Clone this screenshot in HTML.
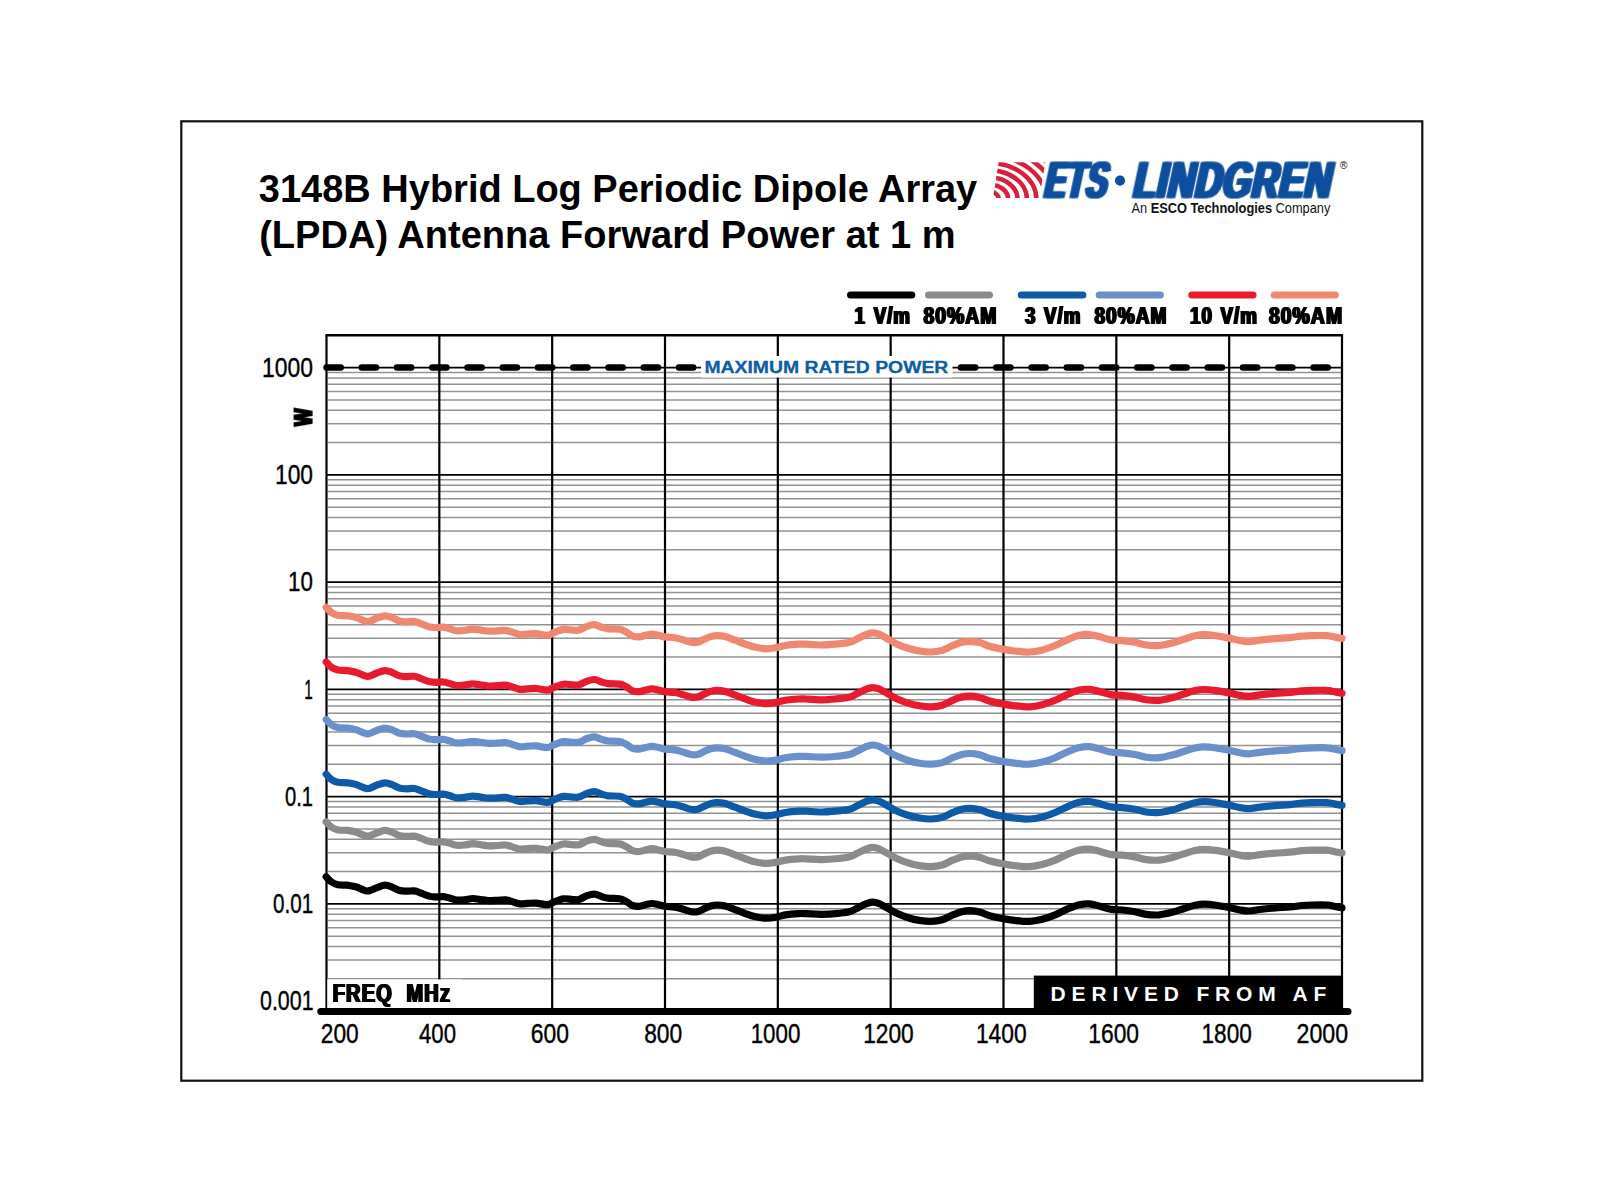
<!DOCTYPE html>
<html lang="en"><head><meta charset="utf-8"><title>3148B Hybrid Log Periodic Dipole Array (LPDA) Antenna Forward Power at 1 m</title>
<style>html,body{margin:0;padding:0;background:#fff;overflow:hidden}svg{display:block}</style></head>
<body>
<svg width="1600" height="1200" viewBox="0 0 1600 1200">
<rect width="1600" height="1200" fill="#fff"/>
<defs><filter id="hb1" x="-5%" y="-20%" width="110%" height="140%"><feOffset in="SourceGraphic" dx="-0.6" result="a"/><feOffset in="SourceGraphic" dx="0.6" result="b"/><feMerge><feMergeNode in="a"/><feMergeNode in="SourceGraphic"/><feMergeNode in="b"/></feMerge></filter><filter id="hb2" x="-5%" y="-20%" width="110%" height="140%"><feOffset in="SourceGraphic" dx="-1.7" result="a"/><feOffset in="SourceGraphic" dx="1.7" result="b"/><feMerge><feMergeNode in="a"/><feMergeNode in="SourceGraphic"/><feMergeNode in="b"/></feMerge></filter></defs>
<rect x="181.3" y="121.3" width="1241" height="959.4" fill="none" stroke="#111" stroke-width="2.2"/>
<g stroke="#929292" stroke-width="1.5">
<line x1="328.0" x2="1341.0" y1="442.56" y2="442.56"/>
<line x1="328.0" x2="1341.0" y1="423.68" y2="423.68"/>
<line x1="328.0" x2="1341.0" y1="410.28" y2="410.28"/>
<line x1="328.0" x2="1341.0" y1="399.89" y2="399.89"/>
<line x1="328.0" x2="1341.0" y1="391.39" y2="391.39"/>
<line x1="328.0" x2="1341.0" y1="384.21" y2="384.21"/>
<line x1="328.0" x2="1341.0" y1="377.99" y2="377.99"/>
<line x1="328.0" x2="1341.0" y1="372.51" y2="372.51"/>
<line x1="328.0" x2="1341.0" y1="549.81" y2="549.81"/>
<line x1="328.0" x2="1341.0" y1="530.93" y2="530.93"/>
<line x1="328.0" x2="1341.0" y1="517.53" y2="517.53"/>
<line x1="328.0" x2="1341.0" y1="507.14" y2="507.14"/>
<line x1="328.0" x2="1341.0" y1="498.64" y2="498.64"/>
<line x1="328.0" x2="1341.0" y1="491.46" y2="491.46"/>
<line x1="328.0" x2="1341.0" y1="485.24" y2="485.24"/>
<line x1="328.0" x2="1341.0" y1="479.76" y2="479.76"/>
<line x1="328.0" x2="1341.0" y1="657.06" y2="657.06"/>
<line x1="328.0" x2="1341.0" y1="638.18" y2="638.18"/>
<line x1="328.0" x2="1341.0" y1="624.78" y2="624.78"/>
<line x1="328.0" x2="1341.0" y1="614.39" y2="614.39"/>
<line x1="328.0" x2="1341.0" y1="605.89" y2="605.89"/>
<line x1="328.0" x2="1341.0" y1="598.71" y2="598.71"/>
<line x1="328.0" x2="1341.0" y1="592.49" y2="592.49"/>
<line x1="328.0" x2="1341.0" y1="587.01" y2="587.01"/>
<line x1="328.0" x2="1341.0" y1="764.31" y2="764.31"/>
<line x1="328.0" x2="1341.0" y1="745.43" y2="745.43"/>
<line x1="328.0" x2="1341.0" y1="732.03" y2="732.03"/>
<line x1="328.0" x2="1341.0" y1="721.64" y2="721.64"/>
<line x1="328.0" x2="1341.0" y1="713.14" y2="713.14"/>
<line x1="328.0" x2="1341.0" y1="705.96" y2="705.96"/>
<line x1="328.0" x2="1341.0" y1="699.74" y2="699.74"/>
<line x1="328.0" x2="1341.0" y1="694.26" y2="694.26"/>
<line x1="328.0" x2="1341.0" y1="871.56" y2="871.56"/>
<line x1="328.0" x2="1341.0" y1="852.68" y2="852.68"/>
<line x1="328.0" x2="1341.0" y1="839.28" y2="839.28"/>
<line x1="328.0" x2="1341.0" y1="828.89" y2="828.89"/>
<line x1="328.0" x2="1341.0" y1="820.39" y2="820.39"/>
<line x1="328.0" x2="1341.0" y1="813.21" y2="813.21"/>
<line x1="328.0" x2="1341.0" y1="806.99" y2="806.99"/>
<line x1="328.0" x2="1341.0" y1="801.51" y2="801.51"/>
<line x1="328.0" x2="1341.0" y1="978.81" y2="978.81"/>
<line x1="328.0" x2="1341.0" y1="959.93" y2="959.93"/>
<line x1="328.0" x2="1341.0" y1="946.53" y2="946.53"/>
<line x1="328.0" x2="1341.0" y1="936.14" y2="936.14"/>
<line x1="328.0" x2="1341.0" y1="927.64" y2="927.64"/>
<line x1="328.0" x2="1341.0" y1="920.46" y2="920.46"/>
<line x1="328.0" x2="1341.0" y1="914.24" y2="914.24"/>
<line x1="328.0" x2="1341.0" y1="908.76" y2="908.76"/>
</g>
<g stroke="#000" stroke-width="1.9">
<line x1="326.5" x2="1342.0" y1="367.60" y2="367.60"/>
<line x1="326.5" x2="1342.0" y1="474.85" y2="474.85"/>
<line x1="326.5" x2="1342.0" y1="582.10" y2="582.10"/>
<line x1="326.5" x2="1342.0" y1="689.35" y2="689.35"/>
<line x1="326.5" x2="1342.0" y1="796.60" y2="796.60"/>
<line x1="326.5" x2="1342.0" y1="903.85" y2="903.85"/>
<line x1="326.50" x2="326.50" y1="335.3" y2="1011.1" stroke-width="2.2"/>
<line x1="439.33" x2="439.33" y1="335.3" y2="1011.1" stroke-width="2.2"/>
<line x1="552.17" x2="552.17" y1="335.3" y2="1011.1" stroke-width="2.2"/>
<line x1="665.00" x2="665.00" y1="335.3" y2="1011.1" stroke-width="2.2"/>
<line x1="777.83" x2="777.83" y1="335.3" y2="1011.1" stroke-width="2.2"/>
<line x1="890.67" x2="890.67" y1="335.3" y2="1011.1" stroke-width="2.2"/>
<line x1="1003.50" x2="1003.50" y1="335.3" y2="1011.1" stroke-width="2.2"/>
<line x1="1116.33" x2="1116.33" y1="335.3" y2="1011.1" stroke-width="2.2"/>
<line x1="1229.17" x2="1229.17" y1="335.3" y2="1011.1" stroke-width="2.2"/>
<line x1="1342.00" x2="1342.00" y1="335.3" y2="1011.1" stroke-width="2.2"/>
</g>
<line x1="325.4" x2="1343.1" y1="335.3" y2="335.3" stroke="#000" stroke-width="2.4"/>
<rect x="327.3" y="979.4" width="134" height="30" fill="#fff"/>
<path d="M326.2 876.7C327.1 877.6 329.4 880.6 331.4 881.9C333.3 883.2 335.2 884.2 337.9 884.7C340.6 885.2 344.6 884.9 347.6 885.2C350.6 885.6 353.0 886.0 355.7 886.8C358.4 887.6 361.7 889.4 363.9 890.1C366.1 890.8 366.5 891.3 368.7 890.9C370.9 890.5 374.2 888.5 376.9 887.6C379.6 886.7 382.6 885.3 385.0 885.2C387.4 885.1 389.1 885.9 391.5 886.8C393.9 887.7 397.2 889.8 399.6 890.5C402.0 891.2 403.7 891.1 406.1 891.2C408.5 891.3 411.8 890.6 414.2 890.9C416.6 891.2 418.2 892.1 420.7 893.0C423.1 893.9 426.4 895.5 428.9 896.1C431.3 896.8 433.0 896.8 435.4 896.9C437.8 897.0 441.1 896.4 443.5 896.6C445.9 896.8 447.8 897.6 450.0 898.2C452.2 898.8 454.1 899.8 456.5 900.1C458.9 900.4 461.9 900.1 464.6 899.8C467.3 899.5 470.0 898.5 472.7 898.5C475.4 898.5 478.2 899.1 480.9 899.5C483.6 899.9 486.3 900.5 489.0 900.6C491.7 900.7 494.4 900.4 497.1 900.3C499.8 900.2 502.8 899.6 505.2 899.8C507.6 900.0 509.2 900.7 511.7 901.4C514.1 902.1 517.2 903.6 519.9 903.9C522.6 904.2 525.3 903.5 528.0 903.4C530.7 903.3 532.9 902.9 536.1 903.1C539.4 903.3 544.5 904.9 547.5 904.7C550.5 904.5 551.3 902.9 554.0 901.9C556.7 900.9 560.6 899.2 563.7 898.8C566.8 898.4 570.0 899.4 572.5 899.5C575.0 899.6 576.6 900.1 579.0 899.5C581.4 898.9 584.5 896.6 587.1 895.7C589.7 894.8 592.0 894.0 594.4 894.1C596.8 894.2 599.4 895.9 601.7 896.6C604.0 897.3 605.2 897.9 608.2 898.2C611.2 898.6 616.6 898.2 619.6 898.7C622.6 899.2 623.9 900.3 626.1 901.4C628.3 902.5 630.4 904.7 632.6 905.5C634.8 906.3 636.9 906.4 639.1 906.3C641.3 906.2 643.4 905.2 645.6 904.7C647.8 904.2 649.9 903.5 652.1 903.5C654.3 903.5 656.4 904.2 658.6 904.7C660.8 905.2 662.4 905.9 665.1 906.3C667.8 906.7 671.9 906.6 674.9 907.1C677.9 907.6 680.3 908.4 683.0 909.2C685.7 910.0 688.7 911.3 691.1 911.7C693.5 912.1 695.4 912.2 697.6 911.7C699.8 911.2 701.9 909.7 704.1 908.7C706.3 907.8 708.4 906.6 710.6 906.0C712.8 905.4 714.7 905.0 717.1 905.0C719.5 905.0 722.2 905.2 725.2 906.0C728.2 906.8 731.8 908.4 735.0 909.6C738.2 910.8 741.5 912.1 744.7 913.3C748.0 914.4 751.0 915.7 754.5 916.5C758.0 917.3 762.4 918.1 765.9 918.2C769.4 918.3 772.4 917.8 775.6 917.2C778.9 916.7 781.6 915.5 785.4 914.9C789.2 914.3 795.0 913.8 798.4 913.6C801.8 913.4 801.8 913.5 805.7 913.6C809.6 913.7 816.6 914.5 822.0 914.4C827.4 914.3 833.6 913.8 838.2 913.3C842.8 912.8 846.4 912.6 849.6 911.7C852.9 910.8 855.0 909.2 857.7 907.9C860.4 906.6 863.5 904.8 865.9 903.9C868.3 903.0 870.2 902.3 872.4 902.2C874.6 902.1 876.5 902.5 878.9 903.5C881.3 904.5 884.0 906.3 887.0 907.9C890.0 909.5 893.2 911.7 896.7 913.3C900.2 914.9 904.3 916.5 908.1 917.7C911.9 918.9 915.7 919.8 919.5 920.4C923.3 921.0 927.1 921.5 930.9 921.4C934.7 921.3 938.7 920.8 942.2 919.8C945.7 918.8 948.8 916.6 952.0 915.2C955.2 913.9 958.7 912.5 961.7 911.7C964.7 911.0 966.9 910.7 969.9 910.7C972.9 910.8 976.4 911.2 979.6 912.0C982.9 912.8 985.6 914.5 989.4 915.6C993.2 916.7 998.2 917.7 1002.4 918.5C1006.6 919.3 1010.1 919.9 1014.6 920.4C1019.1 920.9 1024.6 921.6 1029.2 921.4C1033.8 921.2 1037.9 920.4 1042.2 919.3C1046.5 918.2 1050.9 916.7 1055.2 914.9C1059.5 913.1 1064.1 910.4 1068.2 908.7C1072.3 907.0 1076.1 905.5 1079.6 904.7C1083.1 903.9 1086.2 903.7 1089.4 903.9C1092.7 904.1 1095.6 905.1 1099.1 906.0C1102.6 906.9 1106.7 908.5 1110.5 909.2C1114.3 909.9 1117.8 909.6 1121.9 910.0C1126.0 910.4 1130.9 911.0 1134.9 911.7C1139.0 912.4 1142.2 913.9 1146.2 914.4C1150.2 914.9 1154.9 915.2 1159.2 914.9C1163.5 914.5 1168.1 913.3 1172.2 912.3C1176.3 911.3 1179.8 909.9 1183.6 908.7C1187.4 907.5 1191.5 906.0 1195.0 905.2C1198.5 904.4 1201.2 904.1 1204.7 904.1C1208.2 904.1 1212.0 904.6 1216.1 905.2C1220.1 905.8 1225.0 906.7 1229.0 907.5C1233.0 908.3 1236.7 909.4 1240.0 910.0C1243.3 910.6 1245.7 911.1 1249.0 911.0C1252.3 910.9 1255.7 910.0 1260.0 909.5C1264.3 909.0 1270.0 908.4 1275.0 908.0C1280.0 907.6 1285.5 907.4 1290.0 907.0C1294.5 906.6 1298.3 905.8 1302.0 905.5C1305.7 905.2 1307.8 905.1 1312.0 905.0C1316.2 904.9 1323.2 904.8 1327.0 905.0C1330.8 905.2 1332.5 906.0 1335.0 906.5C1337.5 907.0 1340.8 907.6 1342.0 907.8" fill="none" stroke="#000" stroke-width="7.2" stroke-linecap="round" stroke-linejoin="round"/>
<path d="M326.2 821.9C327.1 822.8 329.4 825.8 331.4 827.1C333.3 828.4 335.2 829.4 337.9 829.9C340.6 830.5 344.6 830.1 347.6 830.4C350.6 830.8 353.0 831.2 355.7 832.0C358.4 832.8 361.7 834.6 363.9 835.3C366.1 836.0 366.5 836.5 368.7 836.1C370.9 835.7 374.2 833.8 376.9 832.8C379.6 831.9 382.6 830.5 385.0 830.4C387.4 830.3 389.1 831.1 391.5 832.0C393.9 832.9 397.2 835.0 399.6 835.7C402.0 836.4 403.7 836.3 406.1 836.4C408.5 836.5 411.8 835.8 414.2 836.1C416.6 836.4 418.2 837.3 420.7 838.2C423.1 839.1 426.4 840.7 428.9 841.3C431.3 842.0 433.0 842.0 435.4 842.1C437.8 842.2 441.1 841.6 443.5 841.8C445.9 842.0 447.8 842.8 450.0 843.4C452.2 844.0 454.1 845.0 456.5 845.3C458.9 845.6 461.9 845.3 464.6 845.0C467.3 844.7 470.0 843.8 472.7 843.7C475.4 843.7 478.2 844.4 480.9 844.7C483.6 845.1 486.3 845.7 489.0 845.8C491.7 845.9 494.4 845.6 497.1 845.5C499.8 845.4 502.8 844.8 505.2 845.0C507.6 845.2 509.2 845.9 511.7 846.6C514.1 847.3 517.2 848.8 519.9 849.1C522.6 849.4 525.3 848.7 528.0 848.6C530.7 848.5 532.9 848.1 536.1 848.3C539.4 848.5 544.5 850.1 547.5 849.9C550.5 849.7 551.3 848.1 554.0 847.1C556.7 846.1 560.6 844.4 563.7 844.0C566.8 843.6 570.0 844.6 572.5 844.7C575.0 844.8 576.6 845.3 579.0 844.7C581.4 844.1 584.5 841.8 587.1 840.9C589.7 840.0 592.0 839.2 594.4 839.3C596.8 839.5 599.4 841.1 601.7 841.8C604.0 842.5 605.2 843.1 608.2 843.4C611.2 843.8 616.6 843.4 619.6 843.9C622.6 844.4 623.9 845.5 626.1 846.6C628.3 847.7 630.4 849.9 632.6 850.7C634.8 851.5 636.9 851.6 639.1 851.5C641.3 851.4 643.4 850.4 645.6 849.9C647.8 849.4 649.9 848.7 652.1 848.7C654.3 848.7 656.4 849.4 658.6 849.9C660.8 850.4 662.4 851.1 665.1 851.5C667.8 851.9 671.9 851.8 674.9 852.3C677.9 852.8 680.3 853.6 683.0 854.4C685.7 855.2 688.7 856.5 691.1 856.9C693.5 857.3 695.4 857.4 697.6 856.9C699.8 856.4 701.9 854.9 704.1 853.9C706.3 853.0 708.4 851.8 710.6 851.2C712.8 850.6 714.7 850.2 717.1 850.2C719.5 850.2 722.2 850.4 725.2 851.2C728.2 852.0 731.8 853.6 735.0 854.8C738.2 856.0 741.5 857.4 744.7 858.5C748.0 859.6 751.0 860.9 754.5 861.7C758.0 862.5 762.4 863.3 765.9 863.4C769.4 863.5 772.4 863.0 775.6 862.4C778.9 861.9 781.6 860.7 785.4 860.1C789.2 859.5 795.0 859.0 798.4 858.8C801.8 858.6 801.8 858.7 805.7 858.8C809.6 858.9 816.6 859.7 822.0 859.6C827.4 859.5 833.6 859.0 838.2 858.5C842.8 858.0 846.4 857.8 849.6 856.9C852.9 856.0 855.0 854.4 857.7 853.1C860.4 851.8 863.5 850.0 865.9 849.1C868.3 848.2 870.2 847.5 872.4 847.4C874.6 847.3 876.5 847.8 878.9 848.7C881.3 849.7 884.0 851.5 887.0 853.1C890.0 854.7 893.2 856.9 896.7 858.5C900.2 860.1 904.3 861.7 908.1 862.9C911.9 864.1 915.7 865.0 919.5 865.6C923.3 866.2 927.1 866.7 930.9 866.6C934.7 866.5 938.7 866.0 942.2 865.0C945.7 864.0 948.8 861.8 952.0 860.4C955.2 859.1 958.7 857.7 961.7 856.9C964.7 856.2 966.9 855.9 969.9 855.9C972.9 856.0 976.4 856.4 979.6 857.2C982.9 858.0 985.6 859.7 989.4 860.8C993.2 861.9 998.2 862.9 1002.4 863.7C1006.6 864.5 1010.1 865.1 1014.6 865.6C1019.1 866.1 1024.6 866.8 1029.2 866.6C1033.8 866.4 1037.9 865.6 1042.2 864.5C1046.5 863.4 1050.9 861.9 1055.2 860.1C1059.5 858.3 1064.1 855.6 1068.2 853.9C1072.3 852.2 1076.1 850.7 1079.6 849.9C1083.1 849.1 1086.2 848.9 1089.4 849.1C1092.7 849.3 1095.6 850.3 1099.1 851.2C1102.6 852.1 1106.7 853.7 1110.5 854.4C1114.3 855.1 1117.8 854.8 1121.9 855.2C1126.0 855.6 1130.9 856.2 1134.9 856.9C1139.0 857.6 1142.2 859.1 1146.2 859.6C1150.2 860.1 1154.9 860.5 1159.2 860.1C1163.5 859.8 1168.1 858.5 1172.2 857.5C1176.3 856.5 1179.8 855.1 1183.6 853.9C1187.4 852.7 1191.5 851.2 1195.0 850.4C1198.5 849.6 1201.2 849.3 1204.7 849.3C1208.2 849.3 1212.0 849.8 1216.1 850.4C1220.1 851.0 1225.0 851.9 1229.0 852.7C1233.0 853.5 1236.7 854.6 1240.0 855.2C1243.3 855.8 1245.7 856.3 1249.0 856.2C1252.3 856.1 1255.7 855.2 1260.0 854.7C1264.3 854.2 1270.0 853.6 1275.0 853.2C1280.0 852.8 1285.5 852.6 1290.0 852.2C1294.5 851.8 1298.3 851.0 1302.0 850.7C1305.7 850.4 1307.8 850.3 1312.0 850.2C1316.2 850.1 1323.2 850.0 1327.0 850.2C1330.8 850.5 1332.5 851.2 1335.0 851.7C1337.5 852.2 1340.8 852.8 1342.0 853.0" fill="none" stroke="#8b8b8b" stroke-width="7.2" stroke-linecap="round" stroke-linejoin="round"/>
<path d="M326.2 774.3C327.1 775.2 329.4 778.2 331.4 779.5C333.3 780.8 335.2 781.8 337.9 782.3C340.6 782.9 344.6 782.5 347.6 782.8C350.6 783.2 353.0 783.6 355.7 784.4C358.4 785.2 361.7 787.0 363.9 787.7C366.1 788.4 366.5 788.9 368.7 788.5C370.9 788.1 374.2 786.2 376.9 785.2C379.6 784.2 382.6 782.9 385.0 782.8C387.4 782.7 389.1 783.5 391.5 784.4C393.9 785.3 397.2 787.4 399.6 788.1C402.0 788.8 403.7 788.7 406.1 788.8C408.5 788.9 411.8 788.2 414.2 788.5C416.6 788.8 418.2 789.7 420.7 790.6C423.1 791.5 426.4 793.1 428.9 793.7C431.3 794.4 433.0 794.4 435.4 794.5C437.8 794.6 441.1 794.0 443.5 794.2C445.9 794.4 447.8 795.2 450.0 795.8C452.2 796.4 454.1 797.4 456.5 797.7C458.9 798.0 461.9 797.7 464.6 797.4C467.3 797.1 470.0 796.1 472.7 796.1C475.4 796.1 478.2 796.8 480.9 797.1C483.6 797.5 486.3 798.1 489.0 798.2C491.7 798.3 494.4 798.0 497.1 797.9C499.8 797.8 502.8 797.2 505.2 797.4C507.6 797.6 509.2 798.3 511.7 799.0C514.1 799.7 517.2 801.2 519.9 801.5C522.6 801.8 525.3 801.1 528.0 801.0C530.7 800.9 532.9 800.5 536.1 800.7C539.4 800.9 544.5 802.5 547.5 802.3C550.5 802.1 551.3 800.5 554.0 799.5C556.7 798.5 560.6 796.8 563.7 796.4C566.8 796.0 570.0 797.0 572.5 797.1C575.0 797.2 576.6 797.7 579.0 797.1C581.4 796.5 584.5 794.2 587.1 793.3C589.7 792.4 592.0 791.6 594.4 791.7C596.8 791.9 599.4 793.5 601.7 794.2C604.0 794.9 605.2 795.5 608.2 795.8C611.2 796.2 616.6 795.8 619.6 796.3C622.6 796.8 623.9 797.9 626.1 799.0C628.3 800.1 630.4 802.3 632.6 803.1C634.8 803.9 636.9 804.0 639.1 803.9C641.3 803.8 643.4 802.8 645.6 802.3C647.8 801.8 649.9 801.1 652.1 801.1C654.3 801.1 656.4 801.8 658.6 802.3C660.8 802.8 662.4 803.5 665.1 803.9C667.8 804.3 671.9 804.2 674.9 804.7C677.9 805.2 680.3 806.0 683.0 806.8C685.7 807.6 688.7 808.9 691.1 809.3C693.5 809.7 695.4 809.8 697.6 809.3C699.8 808.8 701.9 807.3 704.1 806.3C706.3 805.4 708.4 804.2 710.6 803.6C712.8 803.0 714.7 802.6 717.1 802.6C719.5 802.6 722.2 802.8 725.2 803.6C728.2 804.4 731.8 806.0 735.0 807.2C738.2 808.4 741.5 809.8 744.7 810.9C748.0 812.0 751.0 813.3 754.5 814.1C758.0 814.9 762.4 815.7 765.9 815.8C769.4 815.9 772.4 815.4 775.6 814.8C778.9 814.2 781.6 813.1 785.4 812.5C789.2 811.9 795.0 811.4 798.4 811.2C801.8 811.0 801.8 811.1 805.7 811.2C809.6 811.3 816.6 812.0 822.0 812.0C827.4 812.0 833.6 811.3 838.2 810.9C842.8 810.5 846.4 810.2 849.6 809.3C852.9 808.4 855.0 806.8 857.7 805.5C860.4 804.2 863.5 802.5 865.9 801.5C868.3 800.5 870.2 799.9 872.4 799.8C874.6 799.7 876.5 800.2 878.9 801.1C881.3 802.0 884.0 803.9 887.0 805.5C890.0 807.1 893.2 809.3 896.7 810.9C900.2 812.5 904.3 814.1 908.1 815.3C911.9 816.5 915.7 817.4 919.5 818.0C923.3 818.6 927.1 819.1 930.9 819.0C934.7 818.9 938.7 818.4 942.2 817.4C945.7 816.4 948.8 814.2 952.0 812.8C955.2 811.5 958.7 810.1 961.7 809.3C964.7 808.6 966.9 808.3 969.9 808.3C972.9 808.4 976.4 808.8 979.6 809.6C982.9 810.4 985.6 812.1 989.4 813.2C993.2 814.3 998.2 815.3 1002.4 816.1C1006.6 816.9 1010.1 817.5 1014.6 818.0C1019.1 818.5 1024.6 819.2 1029.2 819.0C1033.8 818.8 1037.9 818.0 1042.2 816.9C1046.5 815.8 1050.9 814.3 1055.2 812.5C1059.5 810.7 1064.1 808.0 1068.2 806.3C1072.3 804.6 1076.1 803.1 1079.6 802.3C1083.1 801.5 1086.2 801.3 1089.4 801.5C1092.7 801.7 1095.6 802.7 1099.1 803.6C1102.6 804.5 1106.7 806.1 1110.5 806.8C1114.3 807.5 1117.8 807.2 1121.9 807.6C1126.0 808.0 1130.9 808.6 1134.9 809.3C1139.0 810.0 1142.2 811.5 1146.2 812.0C1150.2 812.5 1154.9 812.9 1159.2 812.5C1163.5 812.1 1168.1 810.9 1172.2 809.9C1176.3 808.9 1179.8 807.5 1183.6 806.3C1187.4 805.1 1191.5 803.6 1195.0 802.8C1198.5 802.0 1201.2 801.7 1204.7 801.7C1208.2 801.7 1212.0 802.2 1216.1 802.8C1220.1 803.4 1225.0 804.3 1229.0 805.1C1233.0 805.9 1236.7 807.0 1240.0 807.6C1243.3 808.2 1245.7 808.7 1249.0 808.6C1252.3 808.5 1255.7 807.6 1260.0 807.1C1264.3 806.6 1270.0 806.0 1275.0 805.6C1280.0 805.2 1285.5 805.0 1290.0 804.6C1294.5 804.2 1298.3 803.4 1302.0 803.1C1305.7 802.8 1307.8 802.7 1312.0 802.6C1316.2 802.5 1323.2 802.4 1327.0 802.6C1330.8 802.9 1332.5 803.6 1335.0 804.1C1337.5 804.6 1340.8 805.2 1342.0 805.4" fill="none" stroke="#0d5aa9" stroke-width="7.2" stroke-linecap="round" stroke-linejoin="round"/>
<path d="M326.2 719.5C327.1 720.4 329.4 723.4 331.4 724.7C333.3 726.0 335.2 727.0 337.9 727.5C340.6 728.0 344.6 727.6 347.6 728.0C350.6 728.4 353.0 728.8 355.7 729.6C358.4 730.4 361.7 732.2 363.9 732.9C366.1 733.6 366.5 734.1 368.7 733.7C370.9 733.3 374.2 731.4 376.9 730.4C379.6 729.5 382.6 728.1 385.0 728.0C387.4 727.9 389.1 728.7 391.5 729.6C393.9 730.5 397.2 732.6 399.6 733.3C402.0 734.0 403.7 733.9 406.1 734.0C408.5 734.1 411.8 733.4 414.2 733.7C416.6 734.0 418.2 734.9 420.7 735.8C423.1 736.7 426.4 738.3 428.9 738.9C431.3 739.6 433.0 739.6 435.4 739.7C437.8 739.8 441.1 739.2 443.5 739.4C445.9 739.6 447.8 740.4 450.0 741.0C452.2 741.6 454.1 742.6 456.5 742.9C458.9 743.2 461.9 742.9 464.6 742.6C467.3 742.3 470.0 741.3 472.7 741.3C475.4 741.2 478.2 741.9 480.9 742.3C483.6 742.6 486.3 743.3 489.0 743.4C491.7 743.5 494.4 743.2 497.1 743.1C499.8 743.0 502.8 742.4 505.2 742.6C507.6 742.8 509.2 743.5 511.7 744.2C514.1 744.9 517.2 746.4 519.9 746.7C522.6 747.0 525.3 746.3 528.0 746.2C530.7 746.1 532.9 745.7 536.1 745.9C539.4 746.1 544.5 747.7 547.5 747.5C550.5 747.3 551.3 745.7 554.0 744.7C556.7 743.7 560.6 742.0 563.7 741.6C566.8 741.2 570.0 742.2 572.5 742.3C575.0 742.4 576.6 742.9 579.0 742.3C581.4 741.7 584.5 739.4 587.1 738.5C589.7 737.6 592.0 736.8 594.4 736.9C596.8 737.1 599.4 738.7 601.7 739.4C604.0 740.1 605.2 740.6 608.2 741.0C611.2 741.4 616.6 741.0 619.6 741.5C622.6 742.0 623.9 743.1 626.1 744.2C628.3 745.3 630.4 747.5 632.6 748.3C634.8 749.1 636.9 749.2 639.1 749.1C641.3 749.0 643.4 748.0 645.6 747.5C647.8 747.0 649.9 746.3 652.1 746.3C654.3 746.3 656.4 747.0 658.6 747.5C660.8 748.0 662.4 748.7 665.1 749.1C667.8 749.5 671.9 749.4 674.9 749.9C677.9 750.4 680.3 751.2 683.0 752.0C685.7 752.8 688.7 754.1 691.1 754.5C693.5 754.9 695.4 755.0 697.6 754.5C699.8 754.0 701.9 752.5 704.1 751.5C706.3 750.5 708.4 749.4 710.6 748.8C712.8 748.2 714.7 747.8 717.1 747.8C719.5 747.8 722.2 748.0 725.2 748.8C728.2 749.6 731.8 751.2 735.0 752.4C738.2 753.6 741.5 754.9 744.7 756.1C748.0 757.2 751.0 758.5 754.5 759.3C758.0 760.1 762.4 760.9 765.9 761.0C769.4 761.1 772.4 760.5 775.6 760.0C778.9 759.5 781.6 758.3 785.4 757.7C789.2 757.1 795.0 756.6 798.4 756.4C801.8 756.2 801.8 756.3 805.7 756.4C809.6 756.5 816.6 757.3 822.0 757.2C827.4 757.1 833.6 756.5 838.2 756.1C842.8 755.6 846.4 755.4 849.6 754.5C852.9 753.6 855.0 752.0 857.7 750.7C860.4 749.4 863.5 747.7 865.9 746.7C868.3 745.8 870.2 745.1 872.4 745.0C874.6 744.9 876.5 745.3 878.9 746.3C881.3 747.2 884.0 749.1 887.0 750.7C890.0 752.3 893.2 754.5 896.7 756.1C900.2 757.7 904.3 759.3 908.1 760.5C911.9 761.7 915.7 762.6 919.5 763.2C923.3 763.8 927.1 764.3 930.9 764.2C934.7 764.1 938.7 763.6 942.2 762.6C945.7 761.6 948.8 759.4 952.0 758.0C955.2 756.6 958.7 755.2 961.7 754.5C964.7 753.8 966.9 753.5 969.9 753.5C972.9 753.5 976.4 754.0 979.6 754.8C982.9 755.6 985.6 757.3 989.4 758.4C993.2 759.5 998.2 760.5 1002.4 761.3C1006.6 762.1 1010.1 762.7 1014.6 763.2C1019.1 763.7 1024.6 764.4 1029.2 764.2C1033.8 764.0 1037.9 763.2 1042.2 762.1C1046.5 761.0 1050.9 759.5 1055.2 757.7C1059.5 755.9 1064.1 753.2 1068.2 751.5C1072.3 749.8 1076.1 748.3 1079.6 747.5C1083.1 746.7 1086.2 746.5 1089.4 746.7C1092.7 746.9 1095.6 747.9 1099.1 748.8C1102.6 749.7 1106.7 751.3 1110.5 752.0C1114.3 752.7 1117.8 752.4 1121.9 752.8C1126.0 753.2 1130.9 753.8 1134.9 754.5C1139.0 755.2 1142.2 756.7 1146.2 757.2C1150.2 757.7 1154.9 758.1 1159.2 757.7C1163.5 757.4 1168.1 756.1 1172.2 755.1C1176.3 754.1 1179.8 752.7 1183.6 751.5C1187.4 750.3 1191.5 748.8 1195.0 748.0C1198.5 747.2 1201.2 746.9 1204.7 746.9C1208.2 746.9 1212.0 747.4 1216.1 748.0C1220.1 748.6 1225.0 749.5 1229.0 750.3C1233.0 751.1 1236.7 752.2 1240.0 752.8C1243.3 753.4 1245.7 753.9 1249.0 753.8C1252.3 753.7 1255.7 752.8 1260.0 752.3C1264.3 751.8 1270.0 751.2 1275.0 750.8C1280.0 750.4 1285.5 750.2 1290.0 749.8C1294.5 749.4 1298.3 748.6 1302.0 748.3C1305.7 748.0 1307.8 747.9 1312.0 747.8C1316.2 747.7 1323.2 747.5 1327.0 747.8C1330.8 748.0 1332.5 748.8 1335.0 749.3C1337.5 749.8 1340.8 750.4 1342.0 750.6" fill="none" stroke="#6a8fcb" stroke-width="7.2" stroke-linecap="round" stroke-linejoin="round"/>
<path d="M326.2 662.1C327.1 663.0 329.4 666.0 331.4 667.3C333.3 668.6 335.2 669.5 337.9 670.1C340.6 670.7 344.6 670.2 347.6 670.6C350.6 671.0 353.0 671.4 355.7 672.2C358.4 673.0 361.7 674.8 363.9 675.5C366.1 676.2 366.5 676.7 368.7 676.3C370.9 675.9 374.2 674.0 376.9 673.0C379.6 672.0 382.6 670.7 385.0 670.6C387.4 670.5 389.1 671.3 391.5 672.2C393.9 673.1 397.2 675.2 399.6 675.9C402.0 676.6 403.7 676.5 406.1 676.6C408.5 676.7 411.8 676.0 414.2 676.3C416.6 676.6 418.2 677.5 420.7 678.4C423.1 679.3 426.4 680.9 428.9 681.5C431.3 682.1 433.0 682.2 435.4 682.3C437.8 682.4 441.1 681.8 443.5 682.0C445.9 682.2 447.8 683.0 450.0 683.6C452.2 684.2 454.1 685.2 456.5 685.5C458.9 685.8 461.9 685.5 464.6 685.2C467.3 684.9 470.0 683.9 472.7 683.9C475.4 683.9 478.2 684.5 480.9 684.9C483.6 685.2 486.3 685.9 489.0 686.0C491.7 686.1 494.4 685.8 497.1 685.7C499.8 685.6 502.8 685.0 505.2 685.2C507.6 685.4 509.2 686.1 511.7 686.8C514.1 687.5 517.2 689.0 519.9 689.3C522.6 689.6 525.3 688.9 528.0 688.8C530.7 688.7 532.9 688.3 536.1 688.5C539.4 688.7 544.5 690.3 547.5 690.1C550.5 689.9 551.3 688.3 554.0 687.3C556.7 686.3 560.6 684.6 563.7 684.2C566.8 683.8 570.0 684.8 572.5 684.9C575.0 685.0 576.6 685.5 579.0 684.9C581.4 684.3 584.5 682.0 587.1 681.1C589.7 680.2 592.0 679.4 594.4 679.5C596.8 679.6 599.4 681.3 601.7 682.0C604.0 682.7 605.2 683.2 608.2 683.6C611.2 684.0 616.6 683.6 619.6 684.1C622.6 684.6 623.9 685.7 626.1 686.8C628.3 687.9 630.4 690.1 632.6 690.9C634.8 691.7 636.9 691.8 639.1 691.7C641.3 691.6 643.4 690.6 645.6 690.1C647.8 689.6 649.9 688.9 652.1 688.9C654.3 688.9 656.4 689.6 658.6 690.1C660.8 690.6 662.4 691.3 665.1 691.7C667.8 692.1 671.9 692.0 674.9 692.5C677.9 693.0 680.3 693.8 683.0 694.6C685.7 695.4 688.7 696.7 691.1 697.1C693.5 697.5 695.4 697.6 697.6 697.1C699.8 696.6 701.9 695.1 704.1 694.1C706.3 693.1 708.4 692.0 710.6 691.4C712.8 690.8 714.7 690.4 717.1 690.4C719.5 690.4 722.2 690.6 725.2 691.4C728.2 692.2 731.8 693.8 735.0 695.0C738.2 696.2 741.5 697.5 744.7 698.7C748.0 699.8 751.0 701.1 754.5 701.9C758.0 702.7 762.4 703.5 765.9 703.6C769.4 703.7 772.4 703.2 775.6 702.6C778.9 702.0 781.6 700.9 785.4 700.3C789.2 699.7 795.0 699.2 798.4 699.0C801.8 698.8 801.8 698.9 805.7 699.0C809.6 699.1 816.6 699.8 822.0 699.8C827.4 699.8 833.6 699.1 838.2 698.7C842.8 698.2 846.4 698.0 849.6 697.1C852.9 696.2 855.0 694.6 857.7 693.3C860.4 692.0 863.5 690.2 865.9 689.3C868.3 688.3 870.2 687.7 872.4 687.6C874.6 687.5 876.5 688.0 878.9 688.9C881.3 689.8 884.0 691.7 887.0 693.3C890.0 694.9 893.2 697.1 896.7 698.7C900.2 700.3 904.3 701.9 908.1 703.1C911.9 704.3 915.7 705.2 919.5 705.8C923.3 706.4 927.1 706.9 930.9 706.8C934.7 706.7 938.7 706.2 942.2 705.2C945.7 704.2 948.8 702.0 952.0 700.6C955.2 699.2 958.7 697.9 961.7 697.1C964.7 696.4 966.9 696.1 969.9 696.1C972.9 696.1 976.4 696.6 979.6 697.4C982.9 698.2 985.6 699.9 989.4 701.0C993.2 702.1 998.2 703.1 1002.4 703.9C1006.6 704.7 1010.1 705.3 1014.6 705.8C1019.1 706.3 1024.6 707.0 1029.2 706.8C1033.8 706.6 1037.9 705.8 1042.2 704.7C1046.5 703.6 1050.9 702.1 1055.2 700.3C1059.5 698.5 1064.1 695.8 1068.2 694.1C1072.3 692.4 1076.1 690.9 1079.6 690.1C1083.1 689.3 1086.2 689.1 1089.4 689.3C1092.7 689.5 1095.6 690.5 1099.1 691.4C1102.6 692.3 1106.7 693.9 1110.5 694.6C1114.3 695.3 1117.8 695.0 1121.9 695.4C1126.0 695.8 1130.9 696.4 1134.9 697.1C1139.0 697.8 1142.2 699.3 1146.2 699.8C1150.2 700.3 1154.9 700.6 1159.2 700.3C1163.5 699.9 1168.1 698.7 1172.2 697.7C1176.3 696.7 1179.8 695.3 1183.6 694.1C1187.4 692.9 1191.5 691.4 1195.0 690.6C1198.5 689.8 1201.2 689.5 1204.7 689.5C1208.2 689.5 1212.0 690.0 1216.1 690.6C1220.1 691.2 1225.0 692.1 1229.0 692.9C1233.0 693.7 1236.7 694.8 1240.0 695.4C1243.3 696.0 1245.7 696.5 1249.0 696.4C1252.3 696.3 1255.7 695.4 1260.0 694.9C1264.3 694.4 1270.0 693.8 1275.0 693.4C1280.0 693.0 1285.5 692.8 1290.0 692.4C1294.5 692.0 1298.3 691.2 1302.0 690.9C1305.7 690.6 1307.8 690.5 1312.0 690.4C1316.2 690.3 1323.2 690.1 1327.0 690.4C1330.8 690.6 1332.5 691.4 1335.0 691.9C1337.5 692.4 1340.8 693.0 1342.0 693.2" fill="none" stroke="#e81a2e" stroke-width="7.2" stroke-linecap="round" stroke-linejoin="round"/>
<path d="M326.2 607.3C327.1 608.2 329.4 611.2 331.4 612.5C333.3 613.8 335.2 614.8 337.9 615.3C340.6 615.9 344.6 615.5 347.6 615.8C350.6 616.2 353.0 616.6 355.7 617.4C358.4 618.2 361.7 620.0 363.9 620.7C366.1 621.4 366.5 621.9 368.7 621.5C370.9 621.1 374.2 619.2 376.9 618.2C379.6 617.2 382.6 615.9 385.0 615.8C387.4 615.7 389.1 616.5 391.5 617.4C393.9 618.3 397.2 620.4 399.6 621.1C402.0 621.8 403.7 621.7 406.1 621.8C408.5 621.9 411.8 621.2 414.2 621.5C416.6 621.8 418.2 622.7 420.7 623.6C423.1 624.5 426.4 626.1 428.9 626.7C431.3 627.4 433.0 627.4 435.4 627.5C437.8 627.6 441.1 627.0 443.5 627.2C445.9 627.4 447.8 628.2 450.0 628.8C452.2 629.4 454.1 630.4 456.5 630.7C458.9 631.0 461.9 630.7 464.6 630.4C467.3 630.1 470.0 629.1 472.7 629.1C475.4 629.1 478.2 629.8 480.9 630.1C483.6 630.5 486.3 631.1 489.0 631.2C491.7 631.3 494.4 631.0 497.1 630.9C499.8 630.8 502.8 630.2 505.2 630.4C507.6 630.6 509.2 631.3 511.7 632.0C514.1 632.7 517.2 634.2 519.9 634.5C522.6 634.8 525.3 634.1 528.0 634.0C530.7 633.9 532.9 633.5 536.1 633.7C539.4 633.9 544.5 635.5 547.5 635.3C550.5 635.1 551.3 633.5 554.0 632.5C556.7 631.5 560.6 629.8 563.7 629.4C566.8 629.0 570.0 630.0 572.5 630.1C575.0 630.2 576.6 630.7 579.0 630.1C581.4 629.5 584.5 627.2 587.1 626.3C589.7 625.4 592.0 624.6 594.4 624.7C596.8 624.9 599.4 626.5 601.7 627.2C604.0 627.9 605.2 628.5 608.2 628.8C611.2 629.2 616.6 628.8 619.6 629.3C622.6 629.8 623.9 630.9 626.1 632.0C628.3 633.1 630.4 635.3 632.6 636.1C634.8 636.9 636.9 637.0 639.1 636.9C641.3 636.8 643.4 635.8 645.6 635.3C647.8 634.8 649.9 634.1 652.1 634.1C654.3 634.1 656.4 634.8 658.6 635.3C660.8 635.8 662.4 636.5 665.1 636.9C667.8 637.3 671.9 637.2 674.9 637.7C677.9 638.2 680.3 639.0 683.0 639.8C685.7 640.6 688.7 641.9 691.1 642.3C693.5 642.7 695.4 642.8 697.6 642.3C699.8 641.8 701.9 640.3 704.1 639.3C706.3 638.4 708.4 637.2 710.6 636.6C712.8 636.0 714.7 635.6 717.1 635.6C719.5 635.6 722.2 635.8 725.2 636.6C728.2 637.4 731.8 639.0 735.0 640.2C738.2 641.4 741.5 642.8 744.7 643.9C748.0 645.0 751.0 646.3 754.5 647.1C758.0 647.9 762.4 648.7 765.9 648.8C769.4 648.9 772.4 648.4 775.6 647.8C778.9 647.2 781.6 646.1 785.4 645.5C789.2 644.9 795.0 644.4 798.4 644.2C801.8 644.0 801.8 644.1 805.7 644.2C809.6 644.3 816.6 645.0 822.0 645.0C827.4 645.0 833.6 644.3 838.2 643.9C842.8 643.5 846.4 643.2 849.6 642.3C852.9 641.4 855.0 639.8 857.7 638.5C860.4 637.2 863.5 635.5 865.9 634.5C868.3 633.5 870.2 632.9 872.4 632.8C874.6 632.7 876.5 633.2 878.9 634.1C881.3 635.0 884.0 636.9 887.0 638.5C890.0 640.1 893.2 642.3 896.7 643.9C900.2 645.5 904.3 647.1 908.1 648.3C911.9 649.5 915.7 650.4 919.5 651.0C923.3 651.6 927.1 652.1 930.9 652.0C934.7 651.9 938.7 651.4 942.2 650.4C945.7 649.4 948.8 647.2 952.0 645.8C955.2 644.5 958.7 643.1 961.7 642.3C964.7 641.6 966.9 641.3 969.9 641.3C972.9 641.4 976.4 641.8 979.6 642.6C982.9 643.4 985.6 645.1 989.4 646.2C993.2 647.3 998.2 648.3 1002.4 649.1C1006.6 649.9 1010.1 650.5 1014.6 651.0C1019.1 651.5 1024.6 652.2 1029.2 652.0C1033.8 651.8 1037.9 651.0 1042.2 649.9C1046.5 648.8 1050.9 647.3 1055.2 645.5C1059.5 643.7 1064.1 641.0 1068.2 639.3C1072.3 637.6 1076.1 636.1 1079.6 635.3C1083.1 634.5 1086.2 634.3 1089.4 634.5C1092.7 634.7 1095.6 635.7 1099.1 636.6C1102.6 637.5 1106.7 639.1 1110.5 639.8C1114.3 640.5 1117.8 640.2 1121.9 640.6C1126.0 641.0 1130.9 641.6 1134.9 642.3C1139.0 643.0 1142.2 644.5 1146.2 645.0C1150.2 645.5 1154.9 645.9 1159.2 645.5C1163.5 645.1 1168.1 643.9 1172.2 642.9C1176.3 641.9 1179.8 640.5 1183.6 639.3C1187.4 638.1 1191.5 636.6 1195.0 635.8C1198.5 635.0 1201.2 634.7 1204.7 634.7C1208.2 634.7 1212.0 635.2 1216.1 635.8C1220.1 636.4 1225.0 637.3 1229.0 638.1C1233.0 638.9 1236.7 640.0 1240.0 640.6C1243.3 641.2 1245.7 641.7 1249.0 641.6C1252.3 641.5 1255.7 640.6 1260.0 640.1C1264.3 639.6 1270.0 639.0 1275.0 638.6C1280.0 638.2 1285.5 638.0 1290.0 637.6C1294.5 637.2 1298.3 636.4 1302.0 636.1C1305.7 635.8 1307.8 635.7 1312.0 635.6C1316.2 635.5 1323.2 635.4 1327.0 635.6C1330.8 635.9 1332.5 636.6 1335.0 637.1C1337.5 637.6 1340.8 638.2 1342.0 638.4" fill="none" stroke="#f08770" stroke-width="7.2" stroke-linecap="round" stroke-linejoin="round"/>
<line x1="326.5" x2="1331" y1="367.6" y2="367.6" stroke="#000" stroke-width="6.5" stroke-linecap="round" stroke-dasharray="14.2 21.05"/>
<rect x="701" y="356" width="251.5" height="21.5" fill="#fff"/>
<line x1="320.8" x2="1348" y1="1011.6" y2="1011.6" stroke="#000" stroke-width="7" stroke-linecap="round"/>
<rect x="1033.8" y="975.6" width="309.2" height="36" fill="#000"/>
<text x="258.86" y="202.0" font-family="Liberation Sans, sans-serif" font-weight="bold" font-size="39" textLength="718.39" lengthAdjust="spacingAndGlyphs">3148B Hybrid Log Periodic Dipole Array</text>
<text x="259.18" y="248.2" font-family="Liberation Sans, sans-serif" font-weight="bold" font-size="39" textLength="696.47" lengthAdjust="spacingAndGlyphs">(LPDA) Antenna Forward Power at 1 m</text>
<text x="262.00" y="376.9" font-family="Liberation Sans, sans-serif" font-size="28" stroke="#000" stroke-width="0.4" textLength="50.91" lengthAdjust="spacingAndGlyphs">1000</text>
<text x="275.00" y="484.2" font-family="Liberation Sans, sans-serif" font-size="28" stroke="#000" stroke-width="0.4" textLength="37.97" lengthAdjust="spacingAndGlyphs">100</text>
<text x="288.00" y="591.4" font-family="Liberation Sans, sans-serif" font-size="28" stroke="#000" stroke-width="0.4" textLength="24.86" lengthAdjust="spacingAndGlyphs">10</text>
<text x="304.35" y="698.6" font-family="Liberation Sans, sans-serif" font-size="28" stroke="#000" stroke-width="0.4" textLength="8.55" lengthAdjust="spacingAndGlyphs">1</text>
<text x="285.00" y="805.9" font-family="Liberation Sans, sans-serif" font-size="28" stroke="#000" stroke-width="0.4" textLength="28.07" lengthAdjust="spacingAndGlyphs">0.1</text>
<text x="273.00" y="913.1" font-family="Liberation Sans, sans-serif" font-size="28" stroke="#000" stroke-width="0.4" textLength="40.12" lengthAdjust="spacingAndGlyphs">0.01</text>
<text x="260.00" y="1010.4" font-family="Liberation Sans, sans-serif" font-size="28" stroke="#000" stroke-width="0.4" textLength="53.60" lengthAdjust="spacingAndGlyphs">0.001</text>
<text x="320.77" y="1043.4" font-family="Liberation Sans, sans-serif" font-size="28" stroke="#000" stroke-width="0.4" textLength="37.93" lengthAdjust="spacingAndGlyphs">200</text>
<text x="419.00" y="1043.4" font-family="Liberation Sans, sans-serif" font-size="28" stroke="#000" stroke-width="0.4" textLength="37.00" lengthAdjust="spacingAndGlyphs">400</text>
<text x="530.77" y="1043.4" font-family="Liberation Sans, sans-serif" font-size="28" stroke="#000" stroke-width="0.4" textLength="38.20" lengthAdjust="spacingAndGlyphs">600</text>
<text x="644.14" y="1043.4" font-family="Liberation Sans, sans-serif" font-size="28" stroke="#000" stroke-width="0.4" textLength="38.03" lengthAdjust="spacingAndGlyphs">800</text>
<text x="750.64" y="1043.4" font-family="Liberation Sans, sans-serif" font-size="28" stroke="#000" stroke-width="0.4" textLength="49.69" lengthAdjust="spacingAndGlyphs">1000</text>
<text x="863.23" y="1043.4" font-family="Liberation Sans, sans-serif" font-size="28" stroke="#000" stroke-width="0.4" textLength="50.47" lengthAdjust="spacingAndGlyphs">1200</text>
<text x="975.90" y="1043.4" font-family="Liberation Sans, sans-serif" font-size="28" stroke="#000" stroke-width="0.4" textLength="50.70" lengthAdjust="spacingAndGlyphs">1400</text>
<text x="1088.30" y="1043.4" font-family="Liberation Sans, sans-serif" font-size="28" stroke="#000" stroke-width="0.4" textLength="50.75" lengthAdjust="spacingAndGlyphs">1600</text>
<text x="1201.56" y="1043.4" font-family="Liberation Sans, sans-serif" font-size="28" stroke="#000" stroke-width="0.4" textLength="50.21" lengthAdjust="spacingAndGlyphs">1800</text>
<text x="1296.50" y="1043.4" font-family="Liberation Sans, sans-serif" font-size="28" stroke="#000" stroke-width="0.4" textLength="51.55" lengthAdjust="spacingAndGlyphs">2000</text>
<text x="332.64" y="1001.9" font-family="Liberation Sans, sans-serif" font-weight="bold" font-size="26.2" xml:space="preserve" letter-spacing="1.6" filter="url(#hb1)" textLength="118.60" lengthAdjust="spacingAndGlyphs">FREQ  MHz</text>
<text x="854.52" y="324.4" font-family="Liberation Sans, sans-serif" font-weight="bold" font-size="24.5" letter-spacing="1.3" word-spacing="2" filter="url(#hb1)" textLength="56.48" lengthAdjust="spacingAndGlyphs">1 V/m</text>
<text x="923.42" y="324.4" font-family="Liberation Sans, sans-serif" font-weight="bold" font-size="24.5" letter-spacing="1.3" word-spacing="2" filter="url(#hb1)" textLength="74.04" lengthAdjust="spacingAndGlyphs">80%AM</text>
<text x="1025.01" y="324.4" font-family="Liberation Sans, sans-serif" font-weight="bold" font-size="24.5" letter-spacing="1.3" word-spacing="2" filter="url(#hb1)" textLength="56.38" lengthAdjust="spacingAndGlyphs">3 V/m</text>
<text x="1094.44" y="324.4" font-family="Liberation Sans, sans-serif" font-weight="bold" font-size="24.5" letter-spacing="1.3" word-spacing="2" filter="url(#hb1)" textLength="73.01" lengthAdjust="spacingAndGlyphs">80%AM</text>
<text x="1190.00" y="324.4" font-family="Liberation Sans, sans-serif" font-weight="bold" font-size="24.5" letter-spacing="1.3" word-spacing="2" filter="url(#hb1)" textLength="67.87" lengthAdjust="spacingAndGlyphs">10 V/m</text>
<text x="1268.99" y="324.4" font-family="Liberation Sans, sans-serif" font-weight="bold" font-size="24.5" letter-spacing="1.3" word-spacing="2" filter="url(#hb1)" textLength="74.09" lengthAdjust="spacingAndGlyphs">80%AM</text>
<text x="704.44" y="373.3" font-family="Liberation Sans, sans-serif" font-weight="bold" font-size="17.2" fill="#0e5ca8" stroke="#0e5ca8" stroke-width="0.3" textLength="243.90" lengthAdjust="spacingAndGlyphs">MAXIMUM RATED POWER</text>
<text x="1050.57" y="1000.7" font-family="Liberation Sans, sans-serif" font-weight="bold" font-size="21" fill="#fff" textLength="275.70" lengthAdjust="spacing">DERIVED FROM AF</text>
<text x="1131.42" y="212.6" font-family="Liberation Sans, sans-serif" font-size="14.5" fill="#111" textLength="198.97" lengthAdjust="spacingAndGlyphs">An <tspan font-weight="bold">ESCO Technologies</tspan> Company</text>
<g transform="translate(0 197.9) skewX(-12) translate(0 -197.9)"><text x="1042.64" y="197.9" font-family="Liberation Sans, sans-serif" font-weight="bold" font-size="49.8" letter-spacing="1.6" fill="#0f4f9e" stroke="#0f4f9e" stroke-width="0.8" filter="url(#hb2)" textLength="63.23" lengthAdjust="spacingAndGlyphs">ETS</text></g>
<g transform="translate(0 197.9) skewX(-12) translate(0 -197.9)"><text x="1131.44" y="197.9" font-family="Liberation Sans, sans-serif" font-weight="bold" font-size="49.8" letter-spacing="1.6" fill="#0f4f9e" stroke="#0f4f9e" stroke-width="0.8" filter="url(#hb2)" textLength="198.26" lengthAdjust="spacingAndGlyphs">LINDGREN</text></g>
<g transform="translate(312.6 426.1) rotate(-90)"><text x="0" y="0" font-family="Liberation Sans, sans-serif" font-weight="bold" font-size="28" filter="url(#hb1)" textLength="17.6" lengthAdjust="spacingAndGlyphs">W</text></g>
<line x1="850.5" x2="911.8" y1="295.1" y2="295.1" stroke="#000" stroke-width="7" stroke-linecap="round"/>
<line x1="928.5" x2="989.5" y1="295.1" y2="295.1" stroke="#8b8b8b" stroke-width="7" stroke-linecap="round"/>
<line x1="1021.2" x2="1082.9" y1="295.1" y2="295.1" stroke="#0d5aa9" stroke-width="7" stroke-linecap="round"/>
<line x1="1099.2" x2="1160.4" y1="295.1" y2="295.1" stroke="#6a8fcb" stroke-width="7" stroke-linecap="round"/>
<line x1="1191.8" x2="1253.1" y1="295.1" y2="295.1" stroke="#e81a2e" stroke-width="7" stroke-linecap="round"/>
<line x1="1274.2" x2="1335.4" y1="295.1" y2="295.1" stroke="#f08770" stroke-width="7" stroke-linecap="round"/>
<defs><clipPath id="lc"><path d="M998.6 162.2 L1045.3 162.2 L1039.3 198 L993 198 Z"/></clipPath></defs>
<g clip-path="url(#lc)" fill="none" stroke="#d81f3c" stroke-width="4.6">
<ellipse cx="989.3" cy="198.8" rx="9.4" ry="7.2"/>
<ellipse cx="989.3" cy="198.8" rx="18.8" ry="14.3"/>
<ellipse cx="989.3" cy="198.8" rx="28.2" ry="21.5"/>
<ellipse cx="989.3" cy="198.8" rx="37.6" ry="28.6"/>
<ellipse cx="989.3" cy="198.8" rx="47.0" ry="35.8"/>
<ellipse cx="989.3" cy="198.8" rx="56.4" ry="42.9"/>
<ellipse cx="989.3" cy="198.8" rx="65.8" ry="50.1"/>
<ellipse cx="989.3" cy="198.8" rx="75.2" ry="57.2"/>
</g>
<circle cx="1120" cy="180.6" r="5.1" fill="#0f4f9e"/>
<text x="1339.8" y="169.4" font-family="Liberation Sans, sans-serif" font-size="10.5" fill="#111">®</text>
</svg>
</body></html>
